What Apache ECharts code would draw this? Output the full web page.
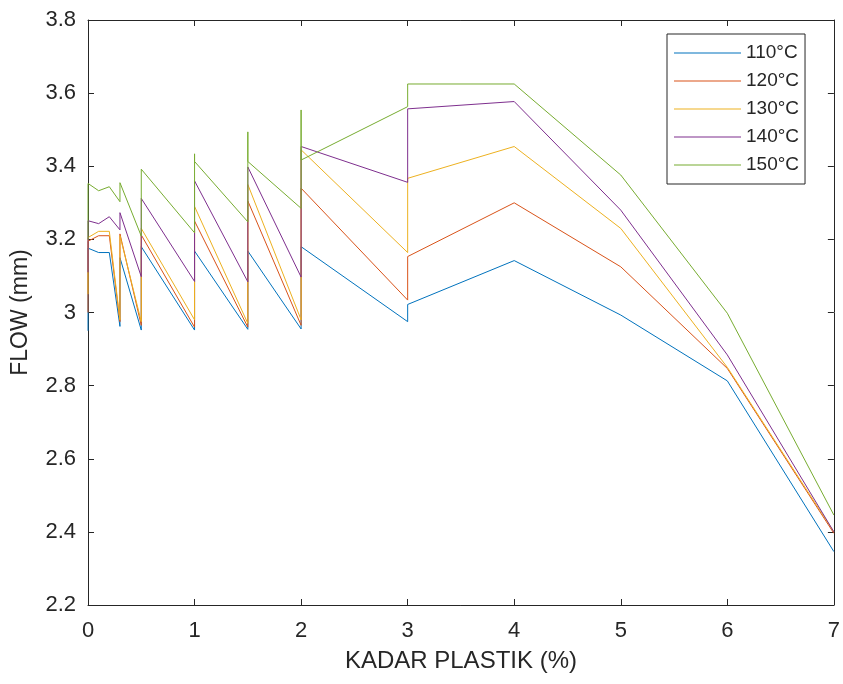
<!DOCTYPE html>
<html>
<head>
<meta charset="utf-8">
<script src="https://cdn.jsdelivr.net/npm/echarts@6/dist/echarts.min.js"></script>
<style>
  html, body { margin: 0; padding: 0; background: #fff; }
  #chart { width: 843px; height: 684px; }
</style>
</head>
<body>
<div id="chart"></div>
<script>
// x positions (repeated x = several readings at the same plastic content)
const kadar = [0, 0, 0.1, 0.2, 0.3, 0.3, 0.5, 0.5, 1, 1, 1, 1.5, 1.5, 1.5, 2, 2, 2, 3, 3, 4, 5, 6, 7];

const flow110 = [2.95, 3.176, 3.164, 3.164, 2.962, 3.15, 2.952, 3.18, 2.952, 3.168, 3.168, 2.954, 3.168, 3.168, 2.955, 3.18, 3.18, 2.975, 3.022, 3.142, 2.993, 2.813, 2.346];
const flow120 = [3.0, 3.195, 3.21, 3.21, 2.975, 3.215, 2.965, 3.212, 2.96, 3.25, 3.25, 2.96, 3.305, 3.305, 2.965, 3.34, 3.34, 3.034, 3.153, 3.30, 3.125, 2.847, 2.396];
const flow130 = [3.05, 3.205, 3.222, 3.222, 2.98, 3.21, 2.975, 3.23, 2.98, 3.29, 3.29, 2.97, 3.35, 3.35, 2.98, 3.445, 3.445, 3.164, 3.367, 3.454, 3.23, 2.85, 2.40];
const flow140 = [3.11, 3.251, 3.243, 3.262, 3.226, 3.273, 3.098, 3.312, 3.085, 3.36, 3.36, 3.084, 3.398, 3.398, 3.097, 3.454, 3.454, 3.356, 3.557, 3.577, 3.28, 2.884, 2.40];
const flow150 = [3.20, 3.353, 3.333, 3.344, 3.303, 3.355, 3.209, 3.392, 3.218, 3.434, 3.413, 3.248, 3.494, 3.413, 3.285, 3.554, 3.417, 3.563, 3.625, 3.625, 3.376, 2.998, 2.446];

const seriesNames = ['110°C', '120°C', '130°C', '140°C', '150°C'];
const seriesColors = ['#0072BD', '#D95319', '#EDB120', '#7E2F8E', '#77AC30'];
const seriesValues = [flow110, flow120, flow130, flow140, flow150];

const xTicks = { min: 0, max: 7, interval: 1 };
const yTicks = { min: 2.2, max: 3.8, interval: 0.2 };

const FONT = 'Liberation Sans';
const INK = '#262626';

const chart = echarts.init(document.getElementById('chart'));

const boxAxis = (extra) => Object.assign({
  type: 'value',
  axisLine: { onZero: false, lineStyle: { color: INK, width: 1 } },
  axisTick: { inside: true, length: 6, lineStyle: { color: INK } },
  splitLine: { show: false }
}, extra);

const option = {
  animation: false,
  backgroundColor: '#fff',
  grid: { left: 88, right: 9, top: 20, bottom: 79 },
  legend: {
    orient: 'vertical',
    left: 667,
    top: 34,
    padding: [9, 6, 9, 7],
    icon: 'rect',
    itemWidth: 67,
    itemHeight: 1.2,
    itemGap: 8,
    backgroundColor: '#fff',
    borderColor: INK,
    borderWidth: 1,
    textStyle: { fontFamily: FONT, fontSize: 19, color: INK, lineHeight: 20 },
    data: seriesNames
  },
  xAxis: [
    boxAxis({
      ...xTicks,
      position: 'bottom',
      axisLabel: { color: INK, fontFamily: FONT, fontSize: 22, margin: 15 },
      name: 'KADAR PLASTIK (%)',
      nameLocation: 'middle',
      nameGap: 44,
      nameTextStyle: { color: INK, fontFamily: FONT, fontSize: 24 }
    }),
    boxAxis({ ...xTicks, position: 'top', axisLabel: { show: false } })
  ],
  yAxis: [
    boxAxis({
      ...yTicks,
      position: 'left',
      axisLabel: { color: INK, fontFamily: FONT, fontSize: 22, margin: 12 },
      name: 'FLOW (mm)',
      nameLocation: 'middle',
      nameGap: 56,
      nameTextStyle: { color: INK, fontFamily: FONT, fontSize: 23 }
    }),
    boxAxis({ ...yTicks, position: 'right', axisLabel: { show: false } })
  ],
  series: seriesNames.map((name, i) => ({
    name,
    type: 'line',
    xAxisIndex: 0,
    yAxisIndex: 0,
    symbol: 'none',
    color: seriesColors[i],
    lineStyle: { width: 1, color: seriesColors[i] },
    data: kadar.map((x, j) => [x, seriesValues[i][j]])
  }))
};

chart.setOption(option);
</script>
</body>
</html>
